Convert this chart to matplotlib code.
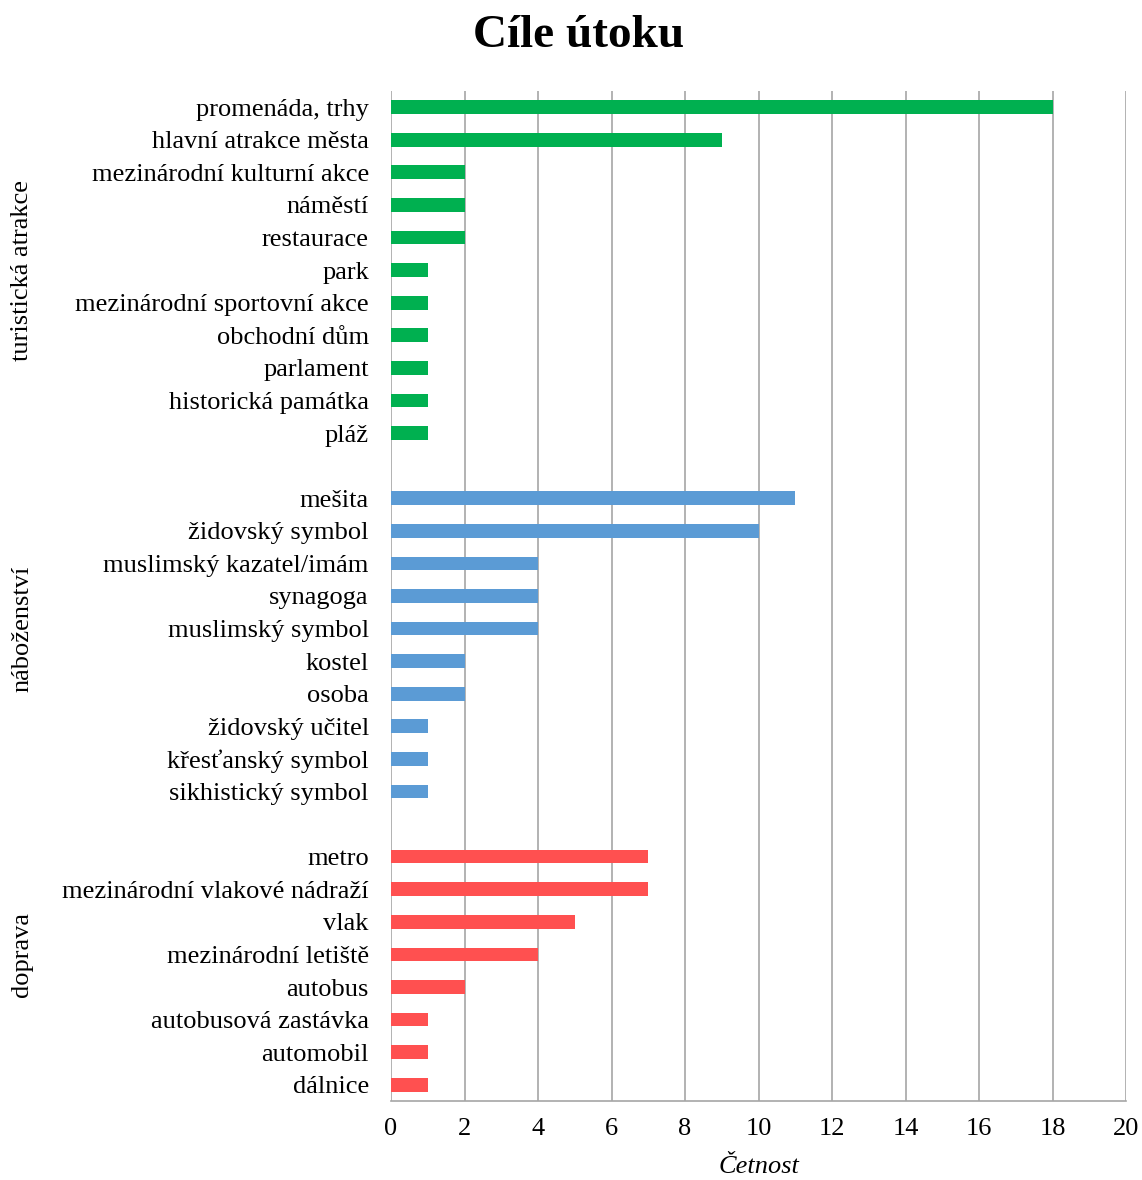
import matplotlib
matplotlib.use("Agg")
import matplotlib.pyplot as plt

plt.rcParams["font.family"] = "Liberation Serif"

# data
tourism_labels = ["promenáda, trhy", "hlavní atrakce města", "mezinárodní kulturní akce",
                  "náměstí", "restaurace", "park", "mezinárodní sportovní akce",
                  "obchodní dům", "parlament", "historická památka", "pláž"]
tourism_values = [18, 9, 2, 2, 2, 1, 1, 1, 1, 1, 1]

religion_labels = ["mešita", "židovský symbol", "muslimský kazatel/imám", "synagoga",
                   "muslimský symbol", "kostel", "osoba", "židovský učitel",
                   "křesťanský symbol", "sikhistický symbol"]
religion_values = [11, 10, 4, 4, 4, 2, 2, 1, 1, 1]

transport_labels = ["metro", "mezinárodní vlakové nádraží", "vlak", "mezinárodní letiště",
                    "autobus", "autobusová zastávka", "automobil", "dálnice"]
transport_values = [7, 7, 5, 4, 2, 1, 1, 1]

group_names = ["turistická atrakce", "náboženství", "doprava"]
group_colors = ["#00B050", "#5B9BD5", "#FF5050"]

groups = [(tourism_labels, tourism_values),
          (religion_labels, religion_values),
          (transport_labels, transport_values)]

fig = plt.figure(figsize=(11.42, 11.8), dpi=100)
ax = fig.add_axes([0.3424, 0.0669, 0.6436, 0.8561])

# positions top to bottom, one empty slot between groups
n_slots = sum(len(g[0]) for g in groups) + len(groups) - 1
pos = n_slots - 1
ticks, ticklabels = [], []
group_centers = []
for i, ((labels, values), color) in enumerate(zip(groups, group_colors)):
    ys = []
    for lab, val in zip(labels, values):
        ax.barh(pos, val, height=0.42, color=color, zorder=3)
        ticks.append(pos)
        ticklabels.append(lab)
        ys.append(pos)
        pos -= 1
    top = ys[0] + (1 if i > 0 else 0)  # group span includes the gap above it
    group_centers.append((top + ys[-1]) / 2)
    pos -= 1

ax.set_ylim(-0.5, n_slots - 0.5)
ax.set_xlim(0, 20)
ax.set_xticks(range(0, 21, 2))
ax.set_yticks(ticks)
ax.set_yticklabels(ticklabels, fontsize=19)
ax.tick_params(axis="x", labelsize=19, length=0, pad=12)
ax.tick_params(axis="y", length=0, pad=16)

ax.grid(axis="x", color="#a6a6a6", linewidth=1.2, zorder=0)
for s in ["top", "right", "left"]:
    ax.spines[s].set_visible(False)
ax.spines["bottom"].set_color("#a6a6a6")
ax.spines["bottom"].set_linewidth(1.2)

for name, yc in zip(group_names, group_centers):
    fig.text(22 / 1142, ax.transData.transform((0, yc))[1] / fig.bbox.height, name,
             rotation=90, fontsize=19, ha="center", va="center")

ax.set_xlabel("Četnost", fontsize=19, style="italic", labelpad=12)
fig.suptitle("Cíle útoku", fontsize=34, fontweight="bold", x=0.507, y=0.987, va="top")

fig.savefig("out.png", dpi=100)
